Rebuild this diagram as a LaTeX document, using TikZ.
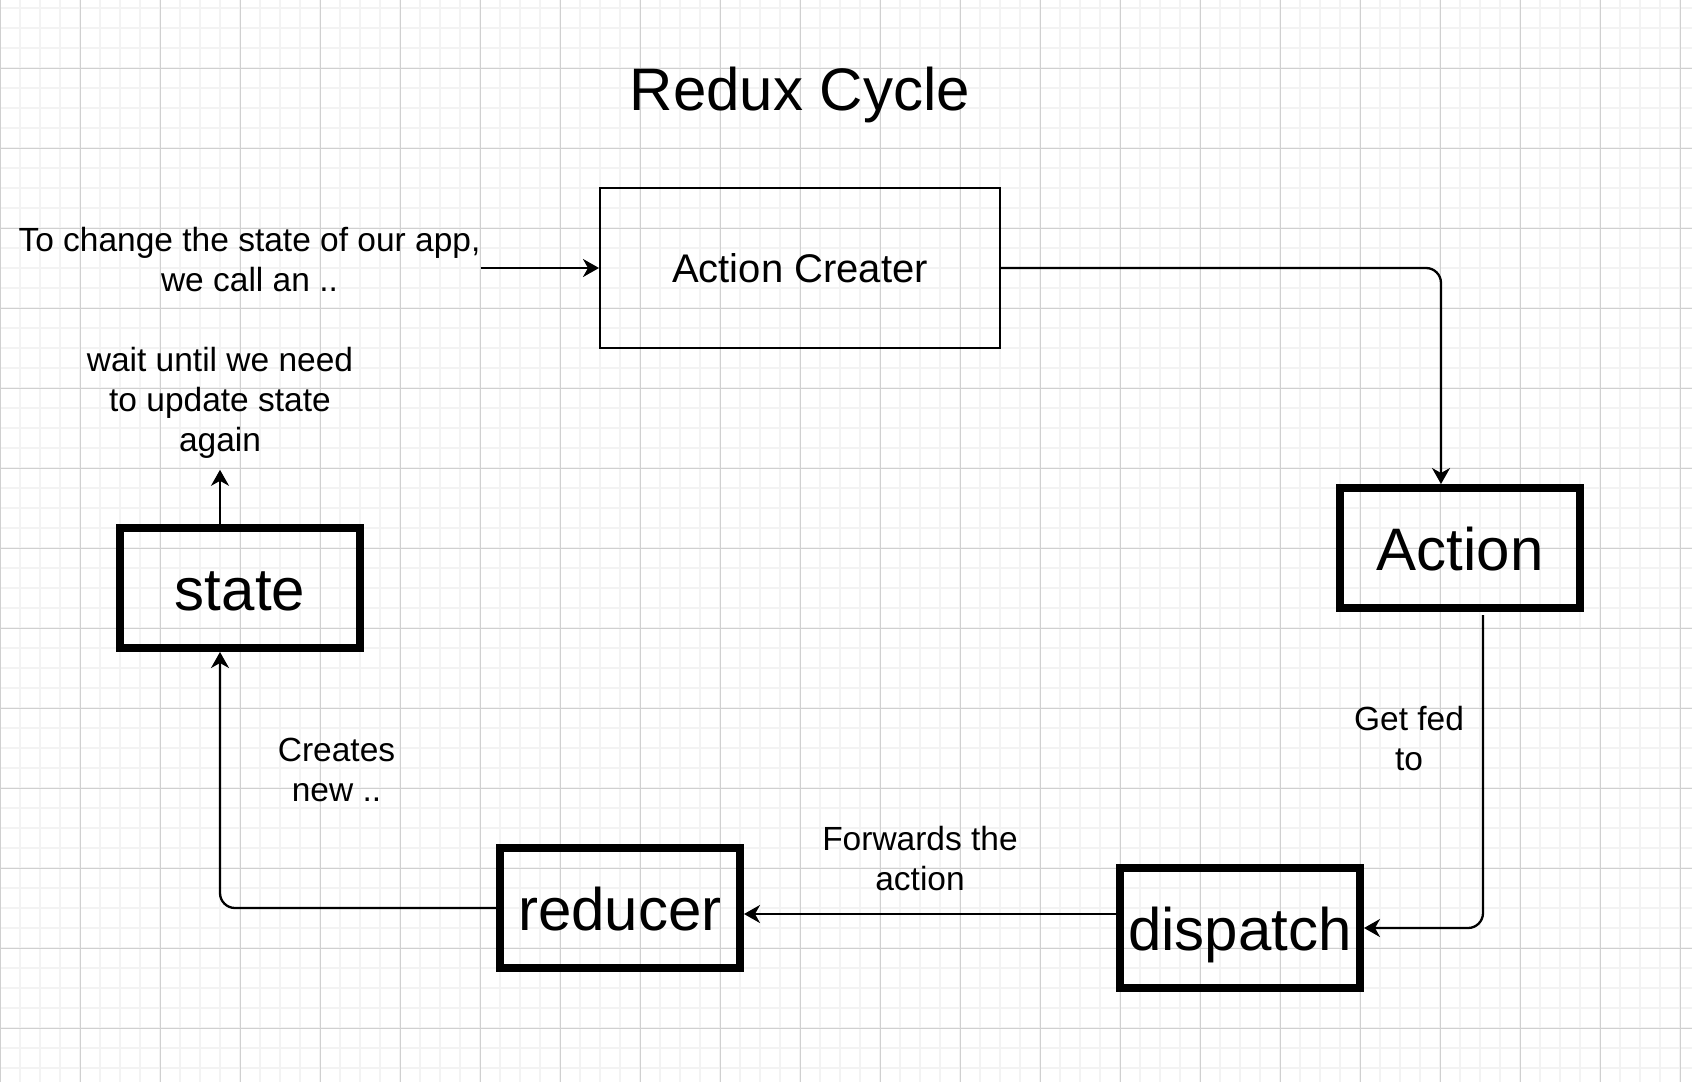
\documentclass[tikz,border=0pt]{standalone}
\usepackage{fontspec}
\setmainfont{Liberation Sans}
\usetikzlibrary{arrows.meta}
\definecolor{gridminor}{HTML}{F3F3F3}
\definecolor{gridmajor}{HTML}{D0D0D0}
\begin{document}
\begin{tikzpicture}[x=1pt,y=-1pt,
  minorline/.style={color=gridminor,line width=2pt},
  majorline/.style={color=gridmajor,line width=1pt},
  bigbox/.style={draw,line width=8pt,minimum width=240pt,minimum height=120pt,inner sep=0pt,
    text height=56pt,text depth=12pt,font=\fontsize{60}{72}\selectfont},
  note/.style={align=center,inner sep=0pt,font=\fontsize{33.5}{40}\selectfont},
  conn/.style={line width=2.3pt,-{Stealth[length=16pt,width=18pt,inset=5pt]},rounded corners=15pt}]
  \useasboundingbox (0,0) rectangle (1692,1082);
  \fill[white] (0,0) rectangle (1692,1082);
  \begin{scope}
  \clip (0,0) rectangle (1692,1082);
  \foreach \gx in {0,20,...,1680} \draw[minorline] (\gx,0) -- (\gx,1082);
  \foreach \gy in {8,28,...,1068} \draw[minorline] (0,\gy) -- (1692,\gy);
  \foreach \gx in {0,80,...,1680} \draw[majorline] (\gx,0) -- (\gx,1082);
  \foreach \gy in {68,148,...,1028} \draw[majorline] (0,\gy) -- (1692,\gy);
  \end{scope}

  \node[anchor=base,font=\fontsize{60}{72}\selectfont] (title) at (800,110) {Redux Cycle};

  \node[draw,line width=2pt,minimum width=400pt,minimum height=160pt,inner sep=0pt,
    text height=37pt,text depth=8pt,font=\fontsize{40}{48}\selectfont] (ac) at (800,268) {Action Creater};
  \node[bigbox] (action) at (1460,548) {Action};
  \node[bigbox] (dispatch) at (1240,928) {dispatch};
  \node[bigbox] (reducer) at (620,908) {reducer};
  \node[bigbox] (state) at (240,588) {state};

  \node[note] (intro) at (249.5,260) {To change the state of our app,\\we call an ..};
  \node[note] (wait) at (220,403) {wait until we need\\to update state\\again};
  \node[note] (fed) at (1409,739) {Get fed\\to};
  \node[note] (fwd) at (920,859) {Forwards the\\action};
  \node[note] (creates) at (336.5,770) {Creates\\new ..};

  \draw[conn] (intro.east |- ac.west) -- (ac.west);
  \draw[conn] (ac.east) -| ([xshift=-19pt]action.north);
  \draw[conn] ([xshift=23pt,yshift=-3pt]action.south) |- (dispatch.east);
  \draw[conn] ([yshift=14pt]dispatch.west) -- ([yshift=-6pt]reducer.east);
  \draw[conn] (reducer.west) -| ([xshift=-20pt]state.south);
  \draw[conn] ([xshift=-20pt]state.north) -- ([yshift=-11pt]wait.south);
\end{tikzpicture}
\end{document}
